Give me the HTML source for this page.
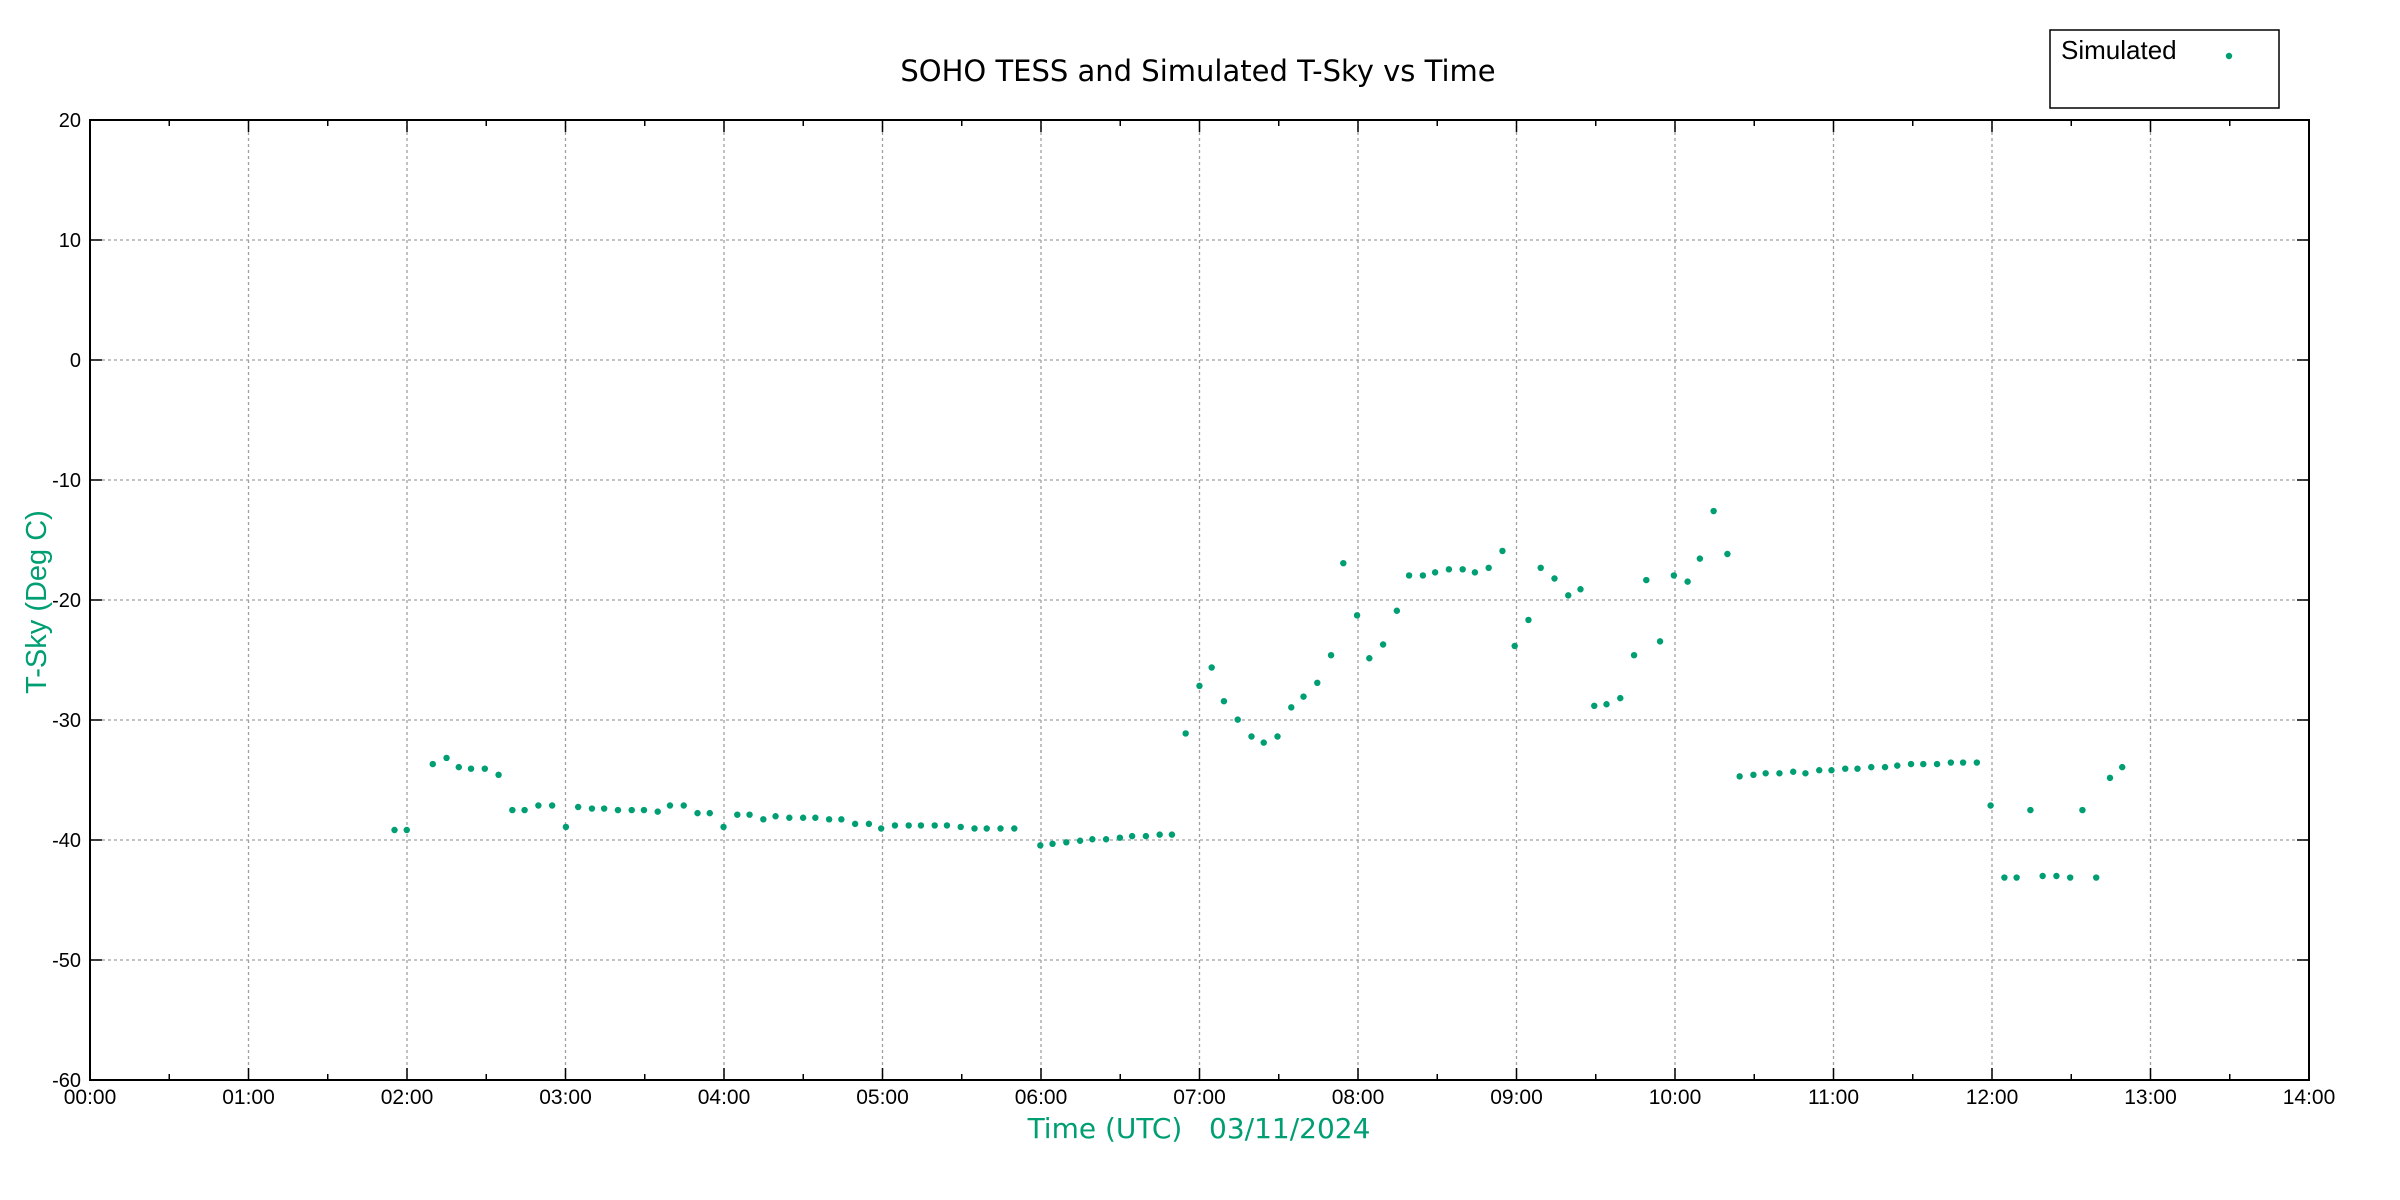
<!DOCTYPE html>
<html><head><meta charset="utf-8"><style>html,body{margin:0;padding:0;background:#fff}svg{display:block}</style></head>
<body>
<svg width="2400" height="1200" viewBox="0 0 2400 1200" xmlns="http://www.w3.org/2000/svg">
<rect width="2400" height="1200" fill="#fff"/>
<g stroke="#a0a0a0" stroke-width="1.3" stroke-dasharray="3,3">
<line x1="248.5" y1="120" x2="248.5" y2="1080"/><line x1="407" y1="120" x2="407" y2="1080"/><line x1="565.5" y1="120" x2="565.5" y2="1080"/><line x1="724" y1="120" x2="724" y2="1080"/><line x1="882.5" y1="120" x2="882.5" y2="1080"/><line x1="1041" y1="120" x2="1041" y2="1080"/><line x1="1199.5" y1="120" x2="1199.5" y2="1080"/><line x1="1358" y1="120" x2="1358" y2="1080"/><line x1="1516.5" y1="120" x2="1516.5" y2="1080"/><line x1="1675" y1="120" x2="1675" y2="1080"/><line x1="1833.5" y1="120" x2="1833.5" y2="1080"/><line x1="1992" y1="120" x2="1992" y2="1080"/><line x1="2150.5" y1="120" x2="2150.5" y2="1080"/>
<line x1="90" y1="240" x2="2309" y2="240"/><line x1="90" y1="360" x2="2309" y2="360"/><line x1="90" y1="480" x2="2309" y2="480"/><line x1="90" y1="600" x2="2309" y2="600"/><line x1="90" y1="720" x2="2309" y2="720"/><line x1="90" y1="840" x2="2309" y2="840"/><line x1="90" y1="960" x2="2309" y2="960"/>
</g>
<g stroke="#000" stroke-width="1.5">
<rect x="90" y="120" width="2219" height="960" fill="none" stroke-width="2"/>
<path d="M248.5 1080v-12M407 1080v-12M565.5 1080v-12M724 1080v-12M882.5 1080v-12M1041 1080v-12M1199.5 1080v-12M1358 1080v-12M1516.5 1080v-12M1675 1080v-12M1833.5 1080v-12M1992 1080v-12M2150.5 1080v-12
M248.5 120v12M407 120v12M565.5 120v12M724 120v12M882.5 120v12M1041 120v12M1199.5 120v12M1358 120v12M1516.5 120v12M1675 120v12M1833.5 120v12M1992 120v12M2150.5 120v12
M169.25 1080v-6M327.75 1080v-6M486.25 1080v-6M644.75 1080v-6M803.25 1080v-6M961.75 1080v-6M1120.25 1080v-6M1278.75 1080v-6M1437.25 1080v-6M1595.75 1080v-6M1754.25 1080v-6M1912.75 1080v-6M2071.25 1080v-6M2229.75 1080v-6
M169.25 120v6M327.75 120v6M486.25 120v6M644.75 120v6M803.25 120v6M961.75 120v6M1120.25 120v6M1278.75 120v6M1437.25 120v6M1595.75 120v6M1754.25 120v6M1912.75 120v6M2071.25 120v6M2229.75 120v6
M90 240h12M90 360h12M90 480h12M90 600h12M90 720h12M90 840h12M90 960h12
M2309 240h-12M2309 360h-12M2309 480h-12M2309 600h-12M2309 720h-12M2309 840h-12M2309 960h-12"/>
</g>
<g font-family="Liberation Sans, Arial, sans-serif" font-size="20" fill="#000" text-anchor="end">
<text x="81" y="127">20</text><text x="81" y="247">10</text><text x="81" y="367">0</text><text x="81" y="487">-10</text><text x="81" y="607">-20</text><text x="81" y="727">-30</text><text x="81" y="847">-40</text><text x="81" y="967">-50</text><text x="81" y="1087">-60</text>
</g>
<g font-family="Liberation Sans, Arial, sans-serif" font-size="21" fill="#000" text-anchor="middle">
<text x="90" y="1104">00:00</text><text x="248.5" y="1104">01:00</text><text x="407" y="1104">02:00</text><text x="565.5" y="1104">03:00</text><text x="724" y="1104">04:00</text><text x="882.5" y="1104">05:00</text><text x="1041" y="1104">06:00</text><text x="1199.5" y="1104">07:00</text><text x="1358" y="1104">08:00</text><text x="1516.5" y="1104">09:00</text><text x="1675" y="1104">10:00</text><text x="1833.5" y="1104">11:00</text><text x="1992" y="1104">12:00</text><text x="2150.5" y="1104">13:00</text><text x="2309" y="1104">14:00</text>
</g>
<text x="1198" y="81" font-family="DejaVu Sans, sans-serif" font-size="29" text-anchor="middle" fill="#000">SOHO TESS and Simulated T-Sky vs Time</text>
<text x="1199" y="1138" font-family="DejaVu Sans, sans-serif" font-size="28" text-anchor="middle" fill="#009e73" xml:space="preserve">Time (UTC)   03/11/2024</text>
<text transform="translate(46,602) rotate(-90)" font-family="Liberation Sans, Arial, sans-serif" font-size="29" text-anchor="middle" fill="#009e73">T-Sky (Deg C)</text>
<rect x="2050" y="30" width="229" height="78" fill="#fff" stroke="#000" stroke-width="1.5"/>
<text x="2061" y="59" font-family="Liberation Sans, Arial, sans-serif" font-size="26" fill="#000">Simulated</text>
<circle cx="2229" cy="56" r="3.2" fill="#009e73"/>
<g transform="translate(-0.3,0.4) scale(1.5303,1.5335)" fill="#009e73">
<circle cx="258" cy="541" r="2.1"/><circle cx="266" cy="541" r="2.1"/><circle cx="283" cy="498" r="2.1"/><circle cx="292" cy="494" r="2.1"/><circle cx="300" cy="500" r="2.1"/><circle cx="308" cy="501" r="2.1"/><circle cx="317" cy="501" r="2.1"/><circle cx="326" cy="505" r="2.1"/><circle cx="335" cy="528" r="2.1"/><circle cx="343" cy="528" r="2.1"/><circle cx="352" cy="525" r="2.1"/><circle cx="361" cy="525" r="2.1"/><circle cx="370" cy="539" r="2.1"/><circle cx="378" cy="526" r="2.1"/><circle cx="387" cy="527" r="2.1"/><circle cx="395" cy="527" r="2.1"/><circle cx="404" cy="528" r="2.1"/><circle cx="413" cy="528" r="2.1"/><circle cx="421" cy="528" r="2.1"/><circle cx="430" cy="529" r="2.1"/><circle cx="438" cy="525" r="2.1"/><circle cx="447" cy="525" r="2.1"/><circle cx="456" cy="530" r="2.1"/><circle cx="464" cy="530" r="2.1"/><circle cx="473" cy="539" r="2.1"/><circle cx="482" cy="531" r="2.1"/><circle cx="490" cy="531" r="2.1"/><circle cx="499" cy="534" r="2.1"/><circle cx="507" cy="532" r="2.1"/><circle cx="516" cy="533" r="2.1"/><circle cx="525" cy="533" r="2.1"/><circle cx="533" cy="533" r="2.1"/><circle cx="542" cy="534" r="2.1"/><circle cx="550" cy="534" r="2.1"/><circle cx="559" cy="537" r="2.1"/><circle cx="568" cy="537" r="2.1"/><circle cx="576" cy="540" r="2.1"/><circle cx="585" cy="538" r="2.1"/><circle cx="594" cy="538" r="2.1"/><circle cx="602" cy="538" r="2.1"/><circle cx="611" cy="538" r="2.1"/><circle cx="619" cy="538" r="2.1"/><circle cx="628" cy="539" r="2.1"/><circle cx="637" cy="540" r="2.1"/><circle cx="645" cy="540" r="2.1"/><circle cx="654" cy="540" r="2.1"/><circle cx="663" cy="540" r="2.1"/><circle cx="680" cy="551" r="2.1"/><circle cx="688" cy="550" r="2.1"/><circle cx="697" cy="549" r="2.1"/><circle cx="706" cy="548" r="2.1"/><circle cx="714" cy="547" r="2.1"/><circle cx="723" cy="547" r="2.1"/><circle cx="732" cy="546" r="2.1"/><circle cx="740" cy="545" r="2.1"/><circle cx="749" cy="545" r="2.1"/><circle cx="758" cy="544" r="2.1"/><circle cx="766" cy="544" r="2.1"/><circle cx="775" cy="478" r="2.1"/><circle cx="784" cy="447" r="2.1"/><circle cx="792" cy="435" r="2.1"/><circle cx="800" cy="457" r="2.1"/><circle cx="809" cy="469" r="2.1"/><circle cx="818" cy="480" r="2.1"/><circle cx="826" cy="484" r="2.1"/><circle cx="835" cy="480" r="2.1"/><circle cx="844" cy="461" r="2.1"/><circle cx="852" cy="454" r="2.1"/><circle cx="861" cy="445" r="2.1"/><circle cx="870" cy="427" r="2.1"/><circle cx="878" cy="367" r="2.1"/><circle cx="887" cy="401" r="2.1"/><circle cx="895" cy="429" r="2.1"/><circle cx="904" cy="420" r="2.1"/><circle cx="913" cy="398" r="2.1"/><circle cx="921" cy="375" r="2.1"/><circle cx="930" cy="375" r="2.1"/><circle cx="938" cy="373" r="2.1"/><circle cx="947" cy="371" r="2.1"/><circle cx="956" cy="371" r="2.1"/><circle cx="964" cy="373" r="2.1"/><circle cx="973" cy="370" r="2.1"/><circle cx="982" cy="359" r="2.1"/><circle cx="990" cy="421" r="2.1"/><circle cx="999" cy="404" r="2.1"/><circle cx="1007" cy="370" r="2.1"/><circle cx="1016" cy="377" r="2.1"/><circle cx="1025" cy="388" r="2.1"/><circle cx="1033" cy="384" r="2.1"/><circle cx="1042" cy="460" r="2.1"/><circle cx="1050" cy="459" r="2.1"/><circle cx="1059" cy="455" r="2.1"/><circle cx="1068" cy="427" r="2.1"/><circle cx="1076" cy="378" r="2.1"/><circle cx="1085" cy="418" r="2.1"/><circle cx="1094" cy="375" r="2.1"/><circle cx="1103" cy="379" r="2.1"/><circle cx="1111" cy="364" r="2.1"/><circle cx="1120" cy="333" r="2.1"/><circle cx="1129" cy="361" r="2.1"/><circle cx="1137" cy="506" r="2.1"/><circle cx="1146" cy="505" r="2.1"/><circle cx="1154" cy="504" r="2.1"/><circle cx="1163" cy="504" r="2.1"/><circle cx="1172" cy="503" r="2.1"/><circle cx="1180" cy="504" r="2.1"/><circle cx="1189" cy="502" r="2.1"/><circle cx="1197" cy="502" r="2.1"/><circle cx="1206" cy="501" r="2.1"/><circle cx="1214" cy="501" r="2.1"/><circle cx="1223" cy="500" r="2.1"/><circle cx="1232" cy="500" r="2.1"/><circle cx="1240" cy="499" r="2.1"/><circle cx="1249" cy="498" r="2.1"/><circle cx="1257" cy="498" r="2.1"/><circle cx="1266" cy="498" r="2.1"/><circle cx="1275" cy="497" r="2.1"/><circle cx="1283" cy="497" r="2.1"/><circle cx="1292" cy="497" r="2.1"/><circle cx="1301" cy="525" r="2.1"/><circle cx="1310" cy="572" r="2.1"/><circle cx="1318" cy="572" r="2.1"/><circle cx="1327" cy="528" r="2.1"/><circle cx="1335" cy="571" r="2.1"/><circle cx="1344" cy="571" r="2.1"/><circle cx="1353" cy="572" r="2.1"/><circle cx="1361" cy="528" r="2.1"/><circle cx="1370" cy="572" r="2.1"/><circle cx="1379" cy="507" r="2.1"/><circle cx="1387" cy="500" r="2.1"/>
</g>
</svg>
</body></html>
